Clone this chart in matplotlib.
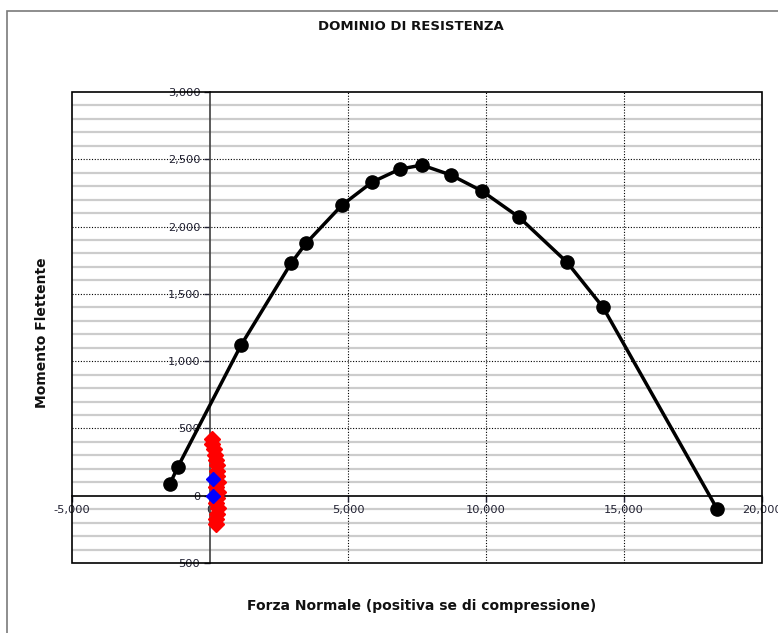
import matplotlib
matplotlib.use("Agg")
import matplotlib.pyplot as plt
from matplotlib.patches import Rectangle

plt.rcParams['font.family'] = ['DejaVu Sans']

# Domain curve (N, M)
domain_N = [-1450, -1160, 1120, 2935, 3480, 4780, 5870, 6880, 7680, 8730, 9855, 11195, 12935, 14240, 18370]
domain_M = [89, 216, 1117, 1727, 1876, 2159, 2330, 2427, 2457, 2383, 2264, 2070, 1735, 1400, -97]

# Load points (red)
load_N = [90, 70, 140, 180, 220, 250, 270, 240, 280, 230, 290, 260, 230, 280, 250, 220, 200]
load_M = [424, 385, 345, 305, 265, 225, 185, 145, 105, 65, 25, -15, -55, -95, -135, -175, -208]

# Points (blue)
pt_N = [120, 120]
pt_M = [127, 0]

x_ticks = [-5000, 0, 5000, 10000, 15000, 20000]
x_tick_labels = ["-5,000", "0", "5,000", "10,000", "15,000", "20,000"]
y_ticks = [-500, 0, 500, 1000, 1500, 2000, 2500, 3000]
y_tick_labels = ["500", "0", "500", "1,000", "1,500", "2,000", "2,500", "3,000"]

fig = plt.figure(figsize=(7.78, 6.33), dpi=100)
fig.patch.set_facecolor('white')
# outer frame (left and top visible)
fig.patches.append(Rectangle((7/778, -0.1), 1.5, 1.1 - 11/633,
                             transform=fig.transFigure, fill=False,
                             edgecolor='#7a7a7a', lw=1.2))

ax = fig.add_axes([72/778, 1 - 563/633, 690/778, 471/633])
ax.set_xlim(-5000, 20000)
ax.set_ylim(-500, 3000)

# grid
for y in range(-500, 3001, 100):
    if y % 500 != 0:
        ax.axhline(y, color='#cccccc', lw=1.6, zorder=0)
for y in y_ticks:
    if y not in (0, -500, 3000):
        ax.axhline(y, color='black', lw=0.8, ls=(0, (1, 1.5)), zorder=0.5)
for x in x_ticks:
    if x not in (-5000, 20000, 0):
        ax.axvline(x, color='black', lw=0.8, ls=(0, (1, 1.5)), zorder=0.5)

# axes at zero
for s in ['top', 'right']:
    ax.spines[s].set_visible(False)
ax.spines['left'].set_position(('data', 0))
ax.spines['bottom'].set_position(('data', 0))
ax.spines['left'].set_color('#404040')
ax.spines['left'].set_linewidth(1.2)
ax.spines['bottom'].set_color('black')
ax.spines['bottom'].set_linewidth(1.2)
ax.add_patch(Rectangle((0, 0), 1, 1, transform=ax.transAxes, fill=False,
                       edgecolor='black', lw=1.2, clip_on=False, zorder=5))

ax.set_xticks(x_ticks)
ax.set_xticklabels(x_tick_labels)
ax.set_yticks(y_ticks)
ax.set_yticklabels(y_tick_labels)
ax.tick_params(axis='both', which='major', labelsize=8.2, length=4, width=1,
               colors='#222233', pad=3)

ax.plot(domain_N, domain_M, color='black', lw=2.5, marker='o', markersize=9.5, zorder=3)
ax.plot(load_N, load_M, ls='none', marker='D', color='#ff0000', markersize=8.5, zorder=3)
ax.plot(pt_N, pt_M, ls='none', marker='D', color='#0000ff', markersize=7.5, zorder=4)

fig.text(411/778, 1 - 27/633, "DOMINIO DI RESISTENZA", ha='center', va='center',
         fontsize=9.5, fontweight='bold', color='#111111')
fig.text(422/778, 1 - 606/633, "Forza Normale (positiva se di compressione)", ha='center',
         va='center', fontsize=10, fontweight='bold', color='#111111')
fig.text(42/778, 1 - 333/633, "Momento Flettente", ha='center', va='center', rotation=90,
         fontsize=10, fontweight='bold', color='#111111')

fig.savefig("out.png", dpi=100)
